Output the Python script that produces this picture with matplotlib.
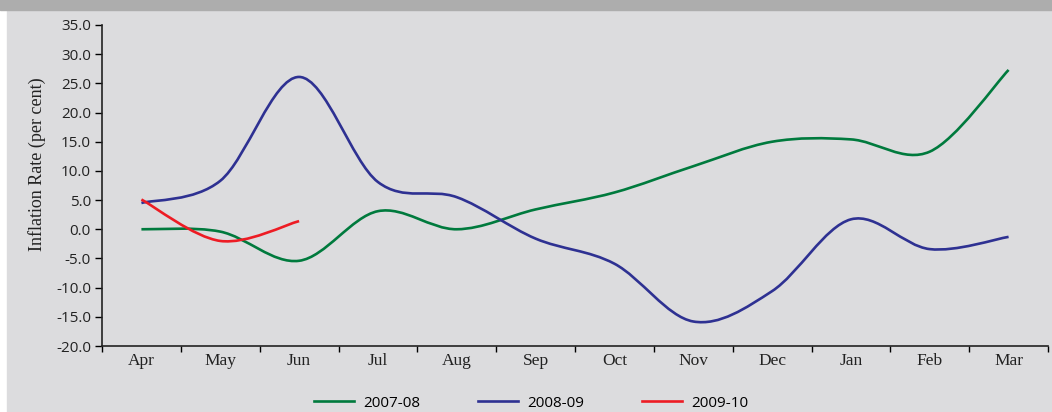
import numpy as np
import matplotlib
matplotlib.use("Agg")
import matplotlib.pyplot as plt
from matplotlib.path import Path
from matplotlib.patches import PathPatch, Rectangle
from matplotlib.lines import Line2D

months = ['Apr', 'May', 'Jun', 'Jul', 'Aug', 'Sep', 'Oct', 'Nov', 'Dec', 'Jan', 'Feb', 'Mar']
infl_0708 = [0.0, -0.4, -5.4, 3.1, 0.0, 3.4, 6.3, 10.8, 15.0, 15.4, 13.3, 27.3]
infl_0809 = [4.5, 8.3, 26.1, 8.1, 5.5, -1.6, -5.9, -15.8, -10.6, 1.7, -3.4, -1.3]
infl_0910 = [5.1, -2.0, 1.4]
series_labels = ['2007-08', '2008-09', '2009-10']
colors = ['#007a3d', '#2e3192', '#ed1c24']

BG = '#dcdcde'
SERIF = 'Liberation Serif'
SANS = 'Open Sans'


def smooth_path(xs, ys):
    # Excel style smoothed line: Catmull-Rom turned into cubic Bezier segments
    pts = np.column_stack([xs, ys]).astype(float)
    n = len(pts)
    verts = [pts[0]]
    codes = [Path.MOVETO]
    for i in range(n - 1):
        p0 = pts[i - 1] if i > 0 else pts[i]
        p1, p2 = pts[i], pts[i + 1]
        p3 = pts[i + 2] if i + 2 < n else pts[i + 1]
        verts += [p1 + (p2 - p0) / 6, p2 - (p3 - p1) / 6, p2]
        codes += [Path.CURVE4] * 3
    return Path(verts, codes)


fig = plt.figure(figsize=(10.52, 4.12), dpi=100, facecolor='white')
fig.patches.append(Rectangle((7 / 1052, 0), 1, 1, transform=fig.transFigure, color=BG, zorder=-10))
fig.patches.append(Rectangle((0, 1 - 10 / 412), 1, 1, transform=fig.transFigure, color='#adadad', zorder=-9))

ax = fig.add_axes([102 / 1052, 66 / 412, 946 / 1052, 321 / 412])
ax.set_facecolor('none')

for vals, c in zip([infl_0708, infl_0809, infl_0910], colors):
    xs = np.arange(len(vals)) + 0.5
    ax.add_patch(PathPatch(smooth_path(xs, vals), facecolor='none', edgecolor=c, lw=1.9, capstyle='butt'))

ax.set_xlim(0, 12)
ax.set_ylim(-20, 35)
ax.set_yticks(np.arange(-20, 36, 5))
ax.set_yticklabels([f'{v:.1f}' for v in np.arange(-20, 36, 5)], family=SANS, fontsize=11, color='#222222')
ax.set_xticks(np.arange(0, 13))
ax.set_xticklabels([])
ax.set_xticks(np.arange(12) + 0.5, minor=True)
ax.set_xticklabels(months, minor=True, family=SERIF, fontsize=12.5, color='#222222')
ax.tick_params(axis='x', which='minor', length=0, pad=5)
ax.tick_params(axis='x', which='major', length=4, width=1, direction='out')
ax.tick_params(axis='y', length=5, width=1, direction='out', pad=3)
for s in ['top', 'right']:
    ax.spines[s].set_visible(False)
for s in ['left', 'bottom']:
    ax.spines[s].set_linewidth(1.2)
    ax.spines[s].set_color('#222222')

ax.set_ylabel('Inflation Rate (per cent)', family=SERIF, fontsize=13, color='#222222')
ax.yaxis.set_label_coords(-0.059, 0.565)

handles = [Line2D([], [], color=c, lw=1.9) for c in colors]
fig.legend(handles, series_labels, loc='lower center', bbox_to_anchor=(0.505, -0.03), ncol=3,
           frameon=False, prop={'family': SANS, 'size': 11}, handlelength=2.6,
           handletextpad=0.6, columnspacing=3.8)

fig.savefig('out.png', dpi=100, facecolor=fig.get_facecolor())
